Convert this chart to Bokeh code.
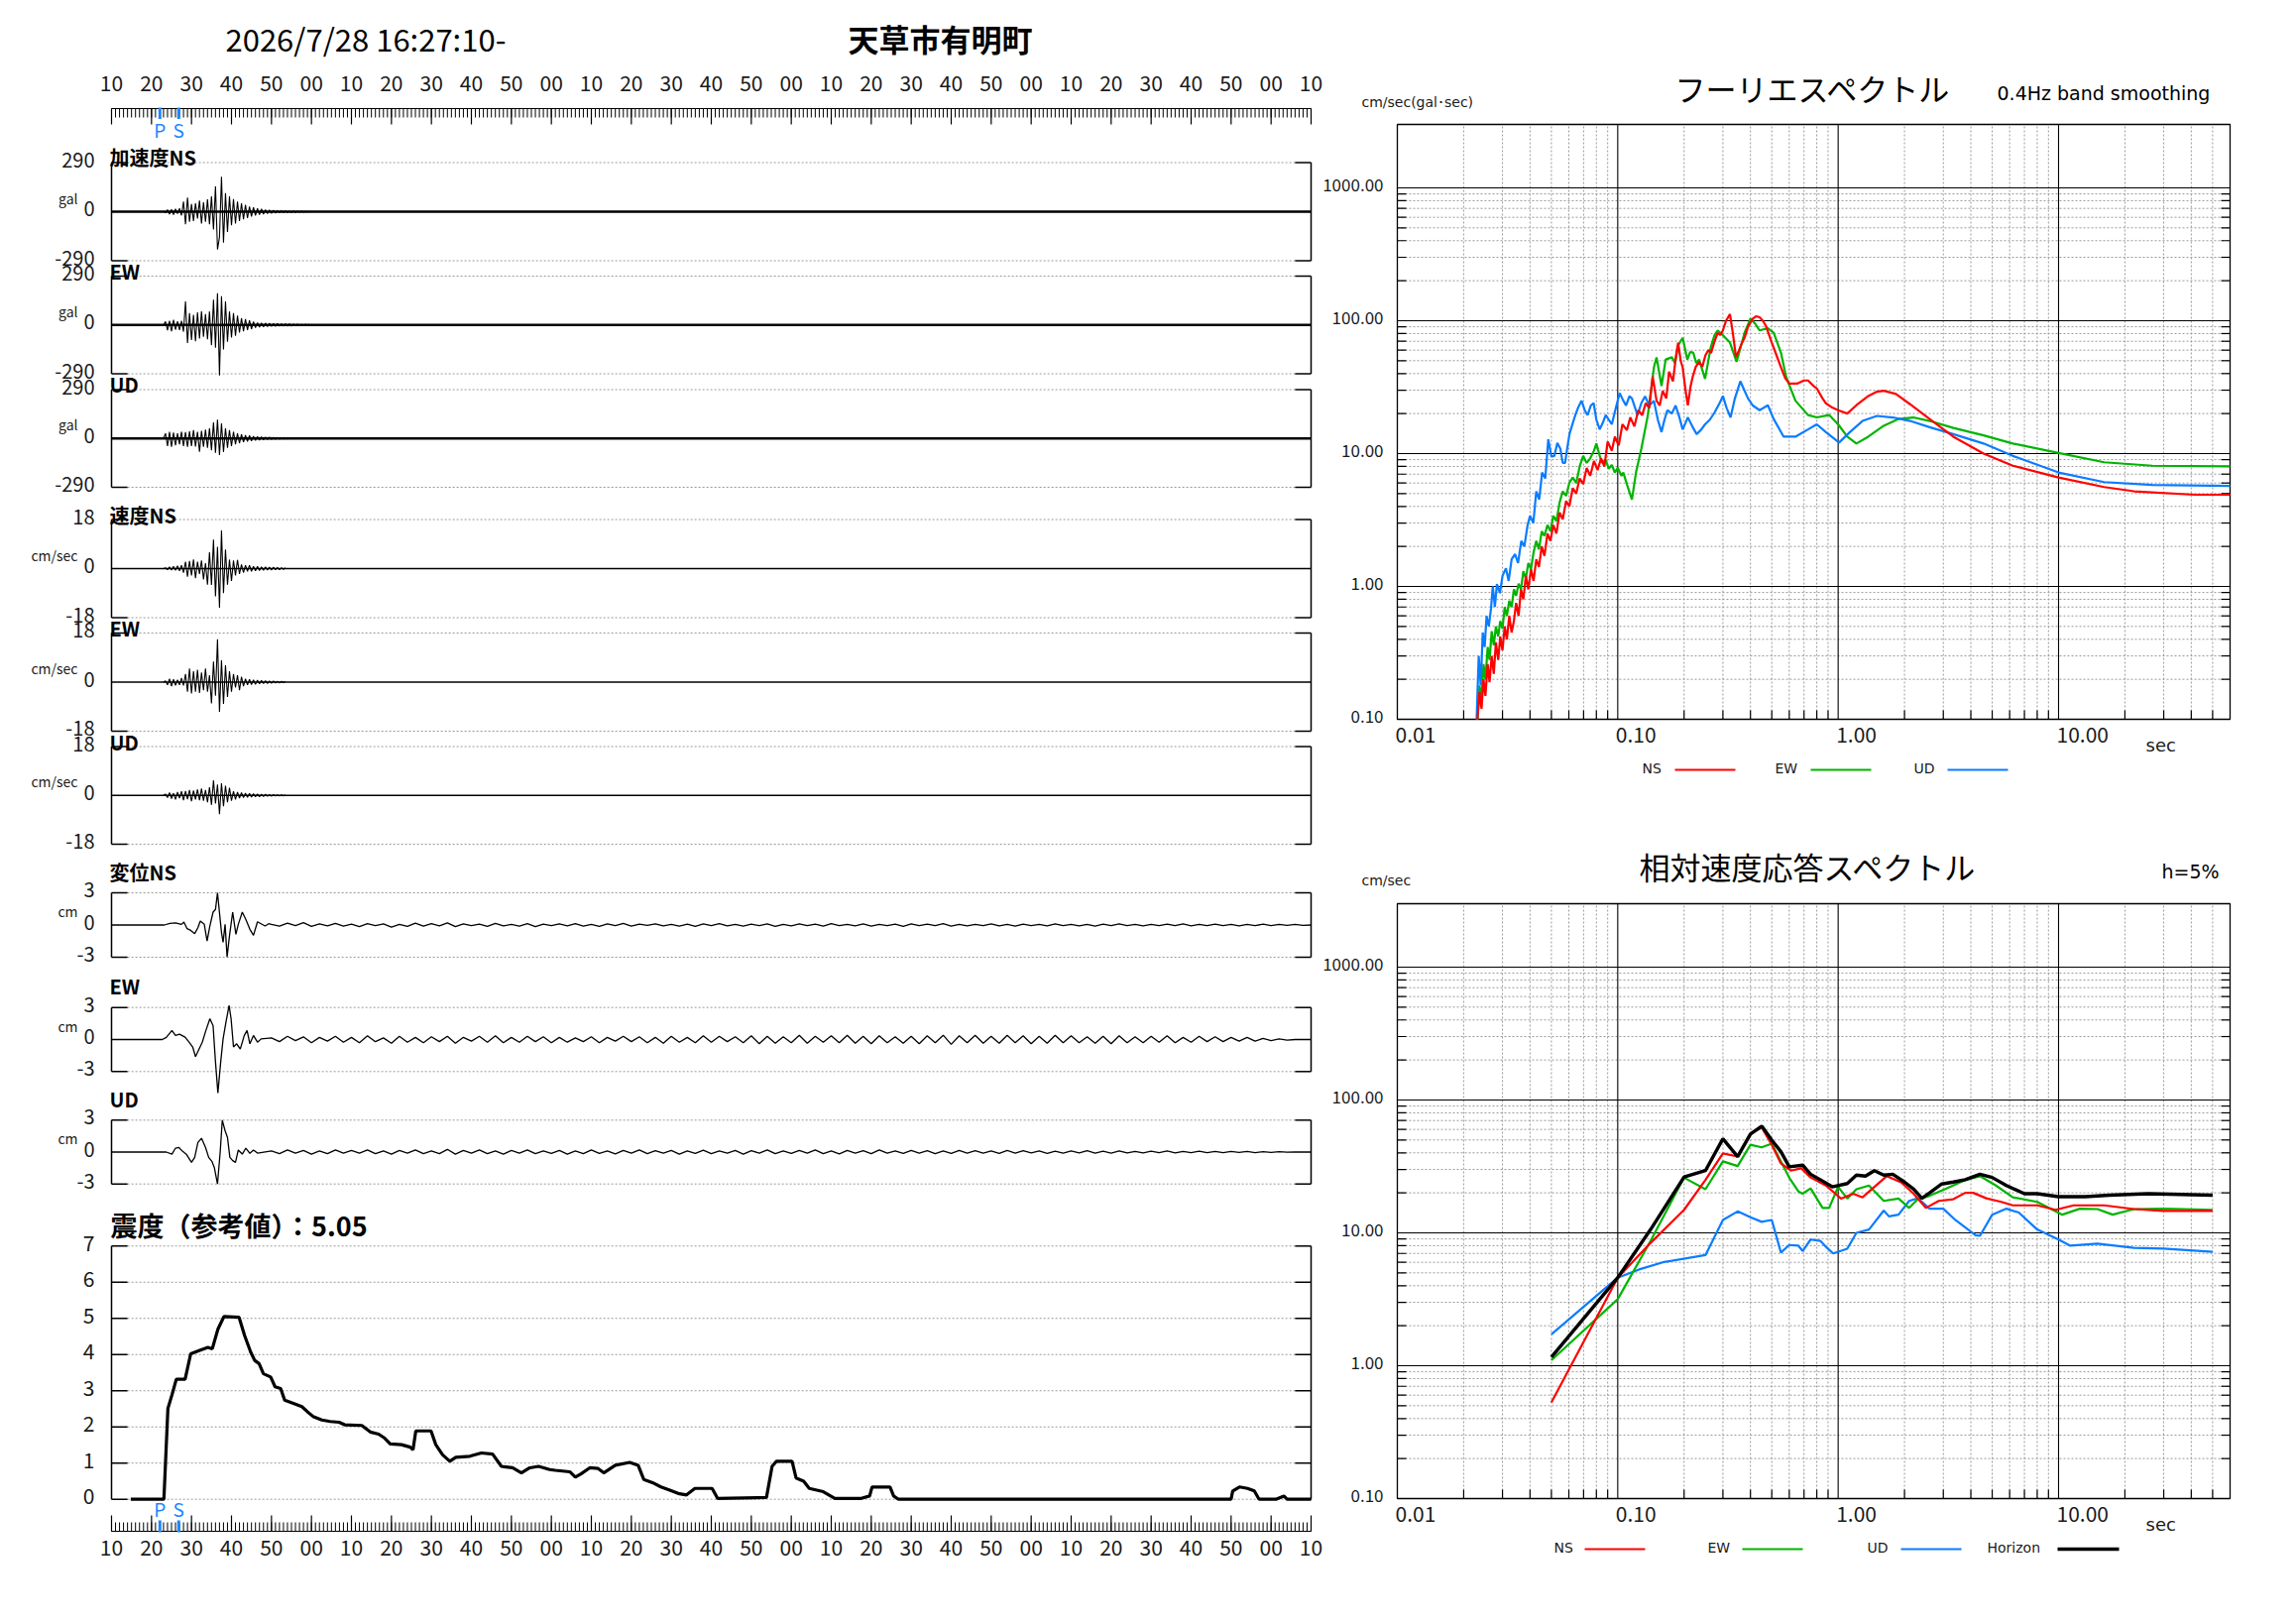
import numpy as np
from bokeh.plotting import figure
from bokeh.models import Range1d, LinearScale
from bokeh.core.properties import value
from bokeh.layouts import row, column
from bokeh.embed import file_html
from bokeh.resources import INLINE

FONT = "Noto Sans CJK JP"
LATIN = "DejaVu Sans"

# ------------------------------------------------------------------ data
TITLE_TIME = "2026/7/28 16:27:10-"
STATION = "天草市有明町"
INTENSITY_TITLE = "震度（参考値）：5.05"
TIME_TICK_LABELS = ["10", "20", "30", "40", "50", "00",
                    "10", "20", "30", "40", "50", "00",
                    "10", "20", "30", "40", "50", "00",
                    "10", "20", "30", "40", "50", "00",
                    "10", "20", "30", "40", "50", "00", "10"]
P_TIME = 12.1
S_TIME = 16.8

# acceleration (gal), samples every 0.5 s from t = 13 s
ACC_NS = [2, -6, 12, -15, 14, -18, 16, -12, 20, -22, 60, -75, 83, -60, 45, -55, 50, -40, 65, -70,
          55, -60, 73, -75, 90, -105, 150, -223, -150, 207, -183, 110, -120, 90, -80, 75, -70, 60,
          -55, 50, -45, 40, -38, 30, -28, 25, -22, 20, -18, 16, -15, 12, -12, 10, -10, 9, -8, 7,
          -7, 6, -6, 5, -5, 4, -5, 4, -4, 3, -3, 3, -3, 2, -2, 2]
ACC_EW = [0, 20, -31, 25, -37, 30, -28, 22, -30, 25, -40, 140, -107, 70, -90, 60, -97, 75, -80, 81,
          -70, 65, -85, 80, -120, 150, -136, 189, -300, 170, -146, 140, -100, 80, -75, 70, -65, 55,
          -45, 40, -38, 35, -30, 28, -25, 20, -16, 14, -13, 12, -12, 11, -10, 10, -9, 9, -8, 8,
          -7, 7, -7, 6, -6, 6, -6, 5, -5, 5, -5, 4, -5, 4, -4, 4]
ACC_UD = [0, 30, -45, 39, -49, 35, -40, 30, -35, 40, -45, 38, -50, 42, -45, 50, -48, 40, -79, 45,
          -50, 52, -55, 60, -70, 95, -85, 112, -99, 90, -80, 60, -55, 50, -45, 40, -35, 30, -28, 25,
          -22, 20, -18, 18, -15, 14, -12, 12, -10, 10, -8, 9, -7, 8, -6, 6, -5, 5, -4, 4, -3, 3,
          -3, 3, -2, 2, -2, 2, -2, 2, -1, 1, -1, 1]

# velocity (cm/sec), samples every 0.5 s from t = 13 s
VEL_NS = [0, 0.3, -0.4, 0.6, -0.5, 0.8, -0.6, 1.0, -0.8, 1.2, -1.5, 2.5, -3.0, 2.8, -2.5, 3.3,
          -3.5, 2.5, -2.0, 3.0, -4.0, 2.0, -5.9, 6.0, -6.0, 10.6, -10.2, 8.0, -14.4, 14.0, -9.0,
          7.0, -5.9, 3.3, -4.5, 3.0, -2.5, 3.2, -2.0, 1.5, -1.5, 1.2, -1.0, 1.2, -1.0, 0.8, -0.8,
          0.8, -0.7, 0.6, -0.6, 0.6, -0.5, 0.5, -0.5, 0.5, -0.4, 0.4, -0.4, 0.3, -0.3, 0.3]
VEL_EW = [0, 0.5, -1.0, 1.2, -1.5, 1.0, -1.2, 0.8, -1.0, 1.5, -1.2, 3.0, -3.5, 5.0, -4.2, 4.0,
          -3.5, 4.5, -4.0, 3.5, -3.0, 5.0, -3.5, 2.5, -7.8, 7.5, -5.0, 15.7, -10.9, 8.0, -8.0,
          6.2, -5.4, 4.0, -3.5, 3.0, -2.0, 2.5, -3.0, 2.0, -1.5, 1.2, -1.0, 1.0, -0.9, 0.8, -0.8,
          0.7, -0.6, 0.6, -0.5, 0.5, -0.5, 0.4, -0.4, 0.4, -0.3, 0.3, -0.3, 0.3, -0.2, 0.2]
VEL_UD = [0, 0.5, -0.8, 1.0, -1.2, 0.8, -1.5, 1.2, -1.0, 1.5, -1.8, 1.6, -1.4, 2.0, -2.2, 1.8,
          -1.5, 2.2, -1.8, 2.5, -2.0, 2.0, -2.5, 3.0, -3.5, 5.6, -3.0, 4.0, -6.9, 4.5, -4.0, 3.5,
          -2.5, 2.8, -2.0, 1.5, -1.5, 1.2, -1.0, 1.0, -0.8, 0.8, -0.7, 0.7, -0.6, 0.6, -0.5, 0.5,
          -0.5, 0.4, -0.4, 0.4, -0.3, 0.3, -0.3, 0.3, -0.2, 0.2, -0.2, 0.2, -0.2, 0.2]

# displacement (cm): main motion (time, value) and tail every 2 s from t = 40 s
DISP_NS_T = [13.2, 14.6, 16.0, 17.5, 18.1, 18.9, 19.8, 20.8, 21.6, 22.2, 23.2, 23.9, 24.6, 25.4,
             26.0, 26.5, 27.0, 27.5, 27.9, 28.4, 28.9, 29.5, 30.3, 31.1, 31.7, 32.7, 33.6, 34.6,
             35.5, 36.5, 37.4, 38.4, 39.3]
DISP_NS_V = [0.0, 0.15, 0.2, 0.06, 0.28, -0.34, -0.5, -0.8, -0.25, 0.37, 0.06, -1.49, -0.09, 1.2,
             1.45, 3.0, 1.15, -0.7, -1.6, 0.06, -2.97, -1.0, 1.2, -0.87, 0.06, 1.2, 0.5, -0.4,
             -0.96, 0.3, 0.12, -0.09, 0.12]
DISP_EW_T = [12.7, 13.7, 15.1, 16.0, 17.0, 18.4, 19.4, 20.3, 21.0, 21.7, 22.7, 23.6, 24.6, 25.4,
             26.0, 26.6, 27.3, 27.9, 28.6, 29.4, 29.9, 30.5, 31.3, 32.2, 33.2, 33.9, 34.6, 35.5,
             36.5, 37.4]
DISP_EW_V = [0.0, 0.2, 0.85, 0.38, 0.5, 0.22, -0.25, -0.7, -1.6, -1.04, -0.25, 0.85, 1.95, 1.3,
             -2.1, -5.0, -2.1, 0.06, 1.6, 3.2, 1.95, -0.7, -0.4, -0.9, 0.38, 0.85, -0.4, 0.38,
             -0.25, 0.06]
DISP_UD_T = [13.7, 15.1, 16.0, 16.8, 17.8, 18.7, 20.0, 20.8, 21.6, 22.5, 23.5, 24.3, 25.1, 25.7,
             26.5, 27.2, 27.7, 28.4, 29.0, 29.6, 30.3, 31.0, 31.7, 32.7, 33.6, 34.6, 35.5, 36.5]
DISP_UD_V = [0.0, -0.2, 0.37, 0.44, 0.06, -0.2, -0.97, -0.5, 0.9, 1.3, 0.44, -0.5, -0.87, -1.44,
             -3.0, 0.12, 3.0, 2.0, 1.37, -0.5, -0.8, -0.97, 0.19, -0.19, 0.37, -0.12, 0.19, -0.1]
DISP_NS_TAIL = [0.05, -0.1, 0.18, -0.05, 0.22, -0.12, 0.1, -0.08, 0.15, -0.1,
                0.08, -0.15, 0.12, -0.05, 0.1, -0.2, 0.05, -0.12, 0.18, -0.1,
                0.12, -0.08, 0.2, -0.15, 0.1, -0.05, 0.08, -0.12, 0.15, -0.08,
                0.05, -0.1, 0.12, -0.15, 0.08, -0.05, 0.1, -0.08, 0.12, -0.1,
                0.06, -0.12, 0.1, -0.06, 0.14, -0.1, 0.08, -0.04, 0.1, -0.08,
                0.05, -0.1, 0.08, -0.12, 0.1, -0.06, 0.12, -0.08, 0.05, -0.1,
                0.08, -0.06, 0.1, -0.12, 0.06, -0.08, 0.1, -0.05, 0.08, -0.1,
                0.12, -0.06, 0.05, -0.08, 0.1, -0.1, 0.06, -0.05, 0.08, -0.12,
                0.1, -0.06, 0.08, -0.05, 0.12, -0.1, 0.06, -0.08, 0.05, -0.06,
                0.1, -0.08, 0.06, -0.1, 0.08, -0.05, 0.06, -0.08, 0.1, -0.06,
                0.05, -0.08, 0.06, -0.1, 0.08, -0.05, 0.1, -0.06, 0.05, -0.08,
                0.06, -0.05, 0.08, -0.06, 0.1, -0.08, 0.05, -0.06, 0.08, -0.05,
                0.06, -0.08, 0.05, -0.06, 0.08, -0.05, 0.06, -0.04, 0.05, -0.03, 0.0]
DISP_EW_TAIL = [0.15, -0.2, 0.3, -0.1, 0.25, -0.3, 0.2, -0.15, 0.3, -0.25,
                0.2, -0.3, 0.35, -0.2, 0.15, -0.35, 0.3, -0.25, 0.2, -0.3,
                0.25, -0.2, 0.3, -0.35, 0.2, -0.15, 0.3, -0.25, 0.35, -0.3,
                0.2, -0.25, 0.3, -0.2, 0.25, -0.3, 0.2, -0.25, 0.15, -0.2,
                0.25, -0.3, 0.2, -0.15, 0.3, -0.2, 0.25, -0.3, 0.2, -0.35,
                0.3, -0.25, 0.2, -0.3, 0.35, -0.25, 0.3, -0.2, 0.25, -0.3,
                0.35, -0.4, 0.3, -0.35, 0.25, -0.3, 0.4, -0.35, 0.3, -0.25,
                0.35, -0.3, 0.4, -0.35, 0.3, -0.4, 0.35, -0.3, 0.25, -0.35,
                0.3, -0.4, 0.35, -0.3, 0.4, -0.45, 0.35, -0.3, 0.4, -0.35,
                0.3, -0.35, 0.4, -0.3, 0.35, -0.4, 0.3, -0.35, 0.4, -0.3,
                0.35, -0.3, 0.25, -0.35, 0.3, -0.4, 0.35, -0.3, 0.25, -0.3,
                0.3, -0.25, 0.35, -0.3, 0.2, -0.25, 0.3, -0.2, 0.25, -0.2,
                0.2, -0.15, 0.2, -0.15, 0.1, -0.1, 0.05, -0.05, 0.0, 0.0, 0.0]
DISP_UD_TAIL = [0.1, -0.15, 0.2, -0.1, 0.15, -0.2, 0.1, -0.15, 0.2, -0.1,
                0.15, -0.1, 0.2, -0.15, 0.1, -0.2, 0.15, -0.1, 0.2, -0.15,
                0.1, -0.15, 0.25, -0.2, 0.15, -0.1, 0.2, -0.15, 0.1, -0.2,
                0.15, -0.1, 0.2, -0.15, 0.1, -0.12, 0.15, -0.2, 0.1, -0.15,
                0.2, -0.12, 0.1, -0.18, 0.15, -0.1, 0.2, -0.15, 0.12, -0.1,
                0.15, -0.2, 0.1, -0.12, 0.18, -0.15, 0.1, -0.1, 0.15, -0.2,
                0.12, -0.1, 0.2, -0.15, 0.1, -0.12, 0.15, -0.1, 0.2, -0.15,
                0.1, -0.18, 0.15, -0.1, 0.12, -0.15, 0.2, -0.1, 0.1, -0.12,
                0.15, -0.1, 0.12, -0.15, 0.1, -0.12, 0.15, -0.1, 0.12, -0.1,
                0.1, -0.12, 0.15, -0.1, 0.12, -0.08, 0.1, -0.12, 0.08, -0.1,
                0.1, -0.08, 0.12, -0.1, 0.08, -0.1, 0.1, -0.08, 0.06, -0.08,
                0.08, -0.06, 0.1, -0.08, 0.06, -0.05, 0.08, -0.06, 0.05, -0.06,
                0.05, -0.04, 0.06, -0.05, 0.04, -0.03, 0.03, -0.02, 0.02, 0.0, 0.0]

# seismic intensity (reference value)
INT_T = [4.8, 13.1, 14.1, 15.1, 16.2, 18.4, 19.8, 21.9, 24.1, 25.2, 26.6, 28.1, 31.9, 33.3, 34.8,
         35.8, 36.9, 38.0, 39.8, 40.9, 42.3, 43.3, 45.5, 47.6, 49.0, 50.4, 52.6, 54.7, 56.9, 58.3,
         62.6, 64.7, 66.8, 68.3, 69.7, 72.5, 74.7, 75.4, 76.1, 79.9, 81.1, 82.8, 84.6, 86.1, 89.6,
         92.5, 95.3, 97.5, 100.3, 102.5, 104.6, 106.8, 109.6, 111.0, 114.6, 116.0, 117.4, 119.6,
         121.7, 123.1, 126.0, 129.6, 131.7, 133.1, 135.3, 137.4, 139.6, 141.7, 143.8, 145.9, 150.2,
         151.6, 163.8, 165.2, 166.3, 170.2, 171.2, 173.1, 174.5, 178.0, 180.9, 187.3, 189.6, 190.2,
         194.7, 195.6, 196.8, 280.0, 280.4, 282.1, 284.1, 285.8, 287.0, 291.2, 293.2, 294.0, 300.0]
INT_V = [0.0, 0.0, 2.51, 2.88, 3.32, 3.32, 4.02, 4.11, 4.2, 4.16, 4.7, 5.05, 5.03, 4.52, 4.07,
         3.84, 3.75, 3.47, 3.38, 3.11, 3.06, 2.74, 2.65, 2.56, 2.42, 2.29, 2.19, 2.15, 2.13, 2.06,
         2.04, 1.86, 1.80, 1.69, 1.53, 1.51, 1.44, 1.37, 1.89, 1.89, 1.51, 1.23, 1.05, 1.16, 1.19,
         1.28, 1.25, 0.91, 0.87, 0.73, 0.87, 0.91, 0.82, 0.80, 0.76, 0.61, 0.70, 0.87,
         0.85, 0.73, 0.94, 1.02, 0.94, 0.55, 0.46, 0.34, 0.25, 0.16, 0.12, 0.30, 0.30,
         0.02, 0.05, 0.91, 1.05, 1.05, 0.59, 0.50, 0.30, 0.21, 0.02, 0.02, 0.09, 0.34,
         0.34, 0.09, 0.0, 0.0, 0.23, 0.34, 0.30, 0.23, 0.0, 0.0, 0.09, 0.0, 0.0]

# Fourier spectrum (period sec, cm/sec)
FS_NS_T = [0.0231, 0.0236, 0.0241, 0.0246, 0.0251, 0.0257, 0.0262, 0.0268, 0.0274, 0.0280, 0.0287,
           0.0293, 0.0300, 0.0307, 0.0314, 0.0322, 0.0330, 0.0338, 0.0346, 0.0355, 0.0364, 0.0373,
           0.0383, 0.0393, 0.0404, 0.0415, 0.0427, 0.0439, 0.0452, 0.0465, 0.048, 0.0495, 0.051,
           0.0527, 0.0545, 0.0563, 0.0583, 0.0603, 0.0625, 0.0648, 0.0672, 0.0697, 0.0723, 0.075,
           0.078, 0.081, 0.084, 0.087, 0.090, 0.094, 0.097, 0.101, 0.105, 0.110, 0.114, 0.119,
           0.124, 0.129, 0.134, 0.139, 0.144, 0.150, 0.155, 0.160, 0.166, 0.171, 0.178, 0.184,
           0.188, 0.193, 0.197, 0.203, 0.208, 0.214, 0.219, 0.226, 0.234, 0.242, 0.250, 0.258,
           0.265, 0.275, 0.284, 0.292, 0.300, 0.31, 0.323, 0.333, 0.344, 0.355, 0.366, 0.376,
           0.39, 0.41, 0.425, 0.44, 0.455, 0.47, 0.50, 0.525, 0.55, 0.575, 0.60, 0.65, 0.70, 0.73,
           0.77, 0.80, 0.85, 0.88, 0.94, 1.0, 1.10, 1.21, 1.37, 1.50, 1.61, 1.83, 2.12, 2.6, 3.33,
           4.57, 6.2, 10, 16.1, 22, 41.6, 60]
FS_NS_A = [0.1, 0.16, 0.12, 0.2, 0.15, 0.26, 0.19, 0.3, 0.22, 0.38, 0.28, 0.42, 0.33, 0.5, 0.4,
           0.6, 0.45, 0.55, 0.75, 0.6, 0.95, 0.8, 1.2, 0.95, 1.35, 1.1, 1.6, 1.4, 2.0, 1.7, 2.5,
           2.2, 2.9, 2.5, 3.6, 3.2, 4.4, 4.0, 5.5, 5.0, 6.5, 5.9, 7.8, 6.8, 8.8, 7.5, 9.2, 8.0,
           12.3, 10.5, 13.4, 11.5, 16.6, 15, 18.7, 16, 21.2, 19.4, 24, 22, 38, 25, 23, 29.7, 26,
           41.3, 35, 55, 68.4, 50, 44.6, 30, 23.1, 32, 38, 45, 48.8, 45, 55, 60.2, 57, 70, 80.9,
           78, 84.5, 100, 112, 80, 53, 60, 68, 74.2, 90, 103.6, 108, 106, 100, 91.6, 68.4, 55,
           44.7, 37, 33.6, 33.6, 35.5, 35.5, 32.5, 30.9, 26, 23.9, 22.2, 21.2, 20.0, 23.1, 27.1,
           29.2, 29.7, 28.1, 23.5, 18.2, 13.4, 10.0, 8.1, 6.6, 5.6, 5.2, 4.9, 4.9]
FS_EW_T = [0.0231, 0.0236, 0.0241, 0.0246, 0.0251, 0.0257, 0.0262, 0.0268, 0.0274, 0.0280, 0.0287,
           0.0293, 0.0300, 0.0307, 0.0314, 0.0322, 0.0330, 0.0338, 0.0346, 0.0355, 0.0364, 0.0373,
           0.0383, 0.0393, 0.0404, 0.0415, 0.0427, 0.0439, 0.0452, 0.0465, 0.048, 0.0495, 0.051,
           0.0527, 0.0545, 0.0563, 0.0583, 0.0603, 0.0625, 0.0648, 0.0672, 0.0697, 0.0723, 0.075,
           0.078, 0.080, 0.083, 0.085, 0.088, 0.091, 0.094, 0.097, 0.100, 0.104, 0.106, 0.111,
           0.116, 0.121, 0.128, 0.137, 0.146, 0.150, 0.158, 0.165, 0.176, 0.182, 0.188, 0.197,
           0.207, 0.213, 0.220, 0.227, 0.234, 0.249, 0.264, 0.275, 0.284, 0.300, 0.323, 0.346,
           0.36, 0.376, 0.40, 0.42, 0.44, 0.48, 0.51, 0.55, 0.58, 0.64, 0.73, 0.80, 0.91, 1.0,
           1.1, 1.21, 1.37, 1.61, 1.88, 2.19, 2.6, 3.33, 4.57, 6.2, 10, 16.1, 26.6, 60]
FS_EW_A = [0.1, 0.18, 0.14, 0.26, 0.2, 0.35, 0.28, 0.46, 0.36, 0.5, 0.42, 0.55, 0.48, 0.7, 0.6,
           0.78, 0.7, 0.95, 0.85, 1.05, 0.95, 1.3, 1.15, 1.5, 1.35, 1.8, 2.2, 1.9, 2.6, 2.4, 2.9,
           2.6, 3.4, 3.1, 4.3, 5.2, 4.8, 6.0, 6.6, 6.0, 8.0, 9.6, 8.5, 9.2, 10.5, 11.9, 9.5, 8.5,
           9.0, 7.7, 8.2, 7.2, 7.8, 6.8, 7.2, 5.6, 4.5, 7.2, 10.9, 19.5, 44.7, 53, 32.3, 51, 53,
           48, 65.3, 74.2, 51, 58, 57.6, 48, 51, 36.5, 62.7, 78, 84.5, 77.6, 68.4, 49, 62, 81,
           103.6, 95, 84.5, 87.6, 81, 57.6, 38, 25, 19.5, 18.7, 19.5, 16.6, 13.4, 11.9, 13.4,
           16.2, 18.2, 18.7, 17.6, 15.6, 13.7, 11.9, 10.1, 8.6, 8.1, 8.0]
FS_UD_T = [0.0229, 0.0234, 0.0239, 0.0244, 0.0249, 0.0254, 0.026, 0.0266, 0.0271, 0.0277, 0.0283,
           0.0292, 0.030, 0.0311, 0.032, 0.033, 0.0342, 0.0353, 0.0365, 0.0377, 0.039, 0.040,
           0.0414, 0.0427, 0.044, 0.0454, 0.0469, 0.0484, 0.050, 0.0516, 0.0532, 0.0549, 0.0563,
           0.0577, 0.059, 0.0604, 0.0622, 0.0642, 0.066, 0.0685, 0.071, 0.073, 0.0755, 0.0777,
           0.080, 0.0828, 0.0855, 0.0882, 0.091, 0.094, 0.098, 0.102, 0.106, 0.109, 0.113, 0.116,
           0.120, 0.123, 0.128, 0.133, 0.139, 0.146, 0.152, 0.158, 0.163, 0.168, 0.176, 0.183,
           0.19, 0.197, 0.203, 0.208, 0.218, 0.228, 0.238, 0.249, 0.262, 0.275, 0.290, 0.300,
           0.312, 0.325, 0.34, 0.36, 0.375, 0.39, 0.41, 0.44, 0.48, 0.51, 0.566, 0.64, 0.73, 0.80,
           0.88, 1.01, 1.13, 1.29, 1.50, 1.77, 2.12, 2.6, 3.33, 4.57, 6.2, 10, 16.1, 26.6, 60]
FS_UD_A = [0.1, 0.3, 0.18, 0.45, 0.35, 0.6, 0.5, 0.68, 1.0, 0.7, 1.04, 0.89, 1.2, 1.37, 1.1, 1.6,
           1.75, 1.5, 2.2, 2.0, 2.9, 3.4, 3.0, 5.2, 4.5, 7.2, 6.5, 12.8, 9.5, 9.6, 12, 10.9, 8.5,
           8.5, 11, 14, 16.5, 19.5, 22, 25, 21, 19.5, 23, 24, 18, 15.2, 17, 19.5, 18, 16.6, 22,
           28.5, 25, 23, 27, 26, 22, 19.5, 24, 27, 23, 24.9, 18, 14.5, 18, 21.2, 20, 23, 19,
           15.2, 17, 18.7, 16, 14, 15, 16.6, 18, 20.4, 24, 27.1, 22, 18.7, 26, 35, 30, 26, 23,
           21.2, 23.1, 18.2, 13.4, 13.4, 15.2, 16.6, 14.5, 12.1, 14.5, 17.6, 19.2, 18.7, 17.6,
           15.8, 14.0, 11.9, 9.6, 7.2, 6.1, 5.8, 5.7]

# relative velocity response spectrum, h = 5 % (period sec, cm/sec)
RS_NS_T = [0.05, 0.1, 0.141, 0.20, 0.25, 0.30, 0.35, 0.40, 0.45, 0.50, 0.55, 0.61, 0.68, 0.75,
           0.88, 1.03, 1.17, 1.29, 1.46, 1.66, 1.93, 2.2, 2.5, 2.86, 3.33, 3.77, 4.1, 4.7, 5.5,
           6.2, 8.0, 9.7, 11.7, 16.1, 22, 30, 50]
RS_NS_V = [0.53, 4.6, 8.4, 14.9, 25, 39.6, 37.5, 56, 62, 46, 33.3, 29.4, 30.6, 26.1, 22.7, 18.1,
           19.7, 18.5, 22.2, 26.7, 24, 19.7, 15.4, 17.4, 17.9, 20, 20, 18.2, 17.1, 16.1, 16.1,
           14.9, 16.1, 16.1, 15.1, 14.6, 14.6]
RS_EW_T = [0.05, 0.1, 0.141, 0.20, 0.25, 0.30, 0.35, 0.40, 0.45, 0.50, 0.55, 0.60, 0.66, 0.69,
           0.75, 0.85, 0.91, 1.0, 1.1, 1.21, 1.38, 1.61, 1.88, 2.1, 2.3, 2.6, 3.1, 3.77, 4.4, 5.2,
           6.2, 8.0, 10.4, 12.5, 15.0, 17.6, 22, 30, 50]
RS_EW_V = [1.1, 3.17, 8.7, 26, 21.3, 34.5, 31.8, 46, 44, 46.9, 34.5, 26, 20.5, 19.7, 21.6, 15.4,
           15.4, 22.2, 18.1, 21.3, 22.7, 17.4, 18.1, 15.4, 17.9, 19, 21.6, 25, 26.7, 22.7, 18.5,
           17.1, 13.7, 15.2, 15.1, 13.7, 15.1, 15.2, 14.9]
RS_UD_T = [0.05, 0.1, 0.125, 0.16, 0.25, 0.30, 0.35, 0.40, 0.45, 0.50, 0.55, 0.60, 0.66, 0.69,
           0.75, 0.83, 0.89, 0.95, 1.1, 1.21, 1.38, 1.61, 1.7, 1.88, 2.1, 2.3, 2.6, 3.0, 3.4, 4.2,
           4.4, 5.0, 5.8, 6.6, 8.0, 10, 11.3, 15, 22, 30, 50]
RS_UD_V = [1.72, 4.6, 5.3, 6.0, 6.8, 12.5, 14.5, 13.1, 12.1, 12.5, 7.1, 8.1, 8.0, 7.3, 8.9, 8.7,
           7.7, 7.0, 7.6, 10, 10.6, 14.7, 13.3, 13.7, 17.4, 18.2, 15.2, 15.2, 12.5, 9.6, 9.5,
           13.7, 15.2, 14.2, 10.6, 8.9, 8.0, 8.3, 7.7, 7.6, 7.2]
RS_H_T = [0.05, 0.1, 0.141, 0.20, 0.25, 0.30, 0.35, 0.40, 0.45, 0.50, 0.55, 0.60, 0.69, 0.75,
          0.83, 0.94, 1.1, 1.21, 1.33, 1.46, 1.61, 1.77, 2.0, 2.2, 2.4, 2.6, 2.95, 3.33, 3.77,
          4.4, 5.0, 5.8, 7.0, 8.0, 10, 13.2, 17, 25.5, 50]
RS_H_V = [1.16, 4.6, 10.6, 26.3, 29.4, 51, 37.5, 55.4, 63.6, 49.8, 40.8, 31.4, 32.3, 27.6, 25.1,
          22.2, 23.5, 27.2, 26.7, 29.4, 27.2, 27.6, 24.1, 21.3, 18.2, 20, 23.3, 24.1, 25.1, 27.6,
          26.1, 22.7, 19.7, 19.7, 18.7, 18.7, 19.2, 19.7, 19.2]

SPEC_X_TICKS = [0.01, 0.1, 1, 10]
SPEC_X_LABELS = ["0.01", "0.10", "1.00", "10.00"]
SPEC_Y_TICKS = [0.1, 1, 10, 100, 1000]
SPEC_Y_LABELS = ["0.10", "1.00", "10.00", "100.00", "1000.00"]
SPEC_X_MAX = 60
SPEC_Y_MAX = 3000

RED, GREEN, BLUE, BLACK = "#ff0000", "#00b400", "#0a7cff", "#000000"
PS_BLUE = "#1e88ff"
GREY = "#9a9a9a"
TXT = "#1a1a1a"

# ------------------------------------------------------------------ layout (page pixels)
FL, FR = 112, 1322          # time axis 0..300 s
LW, H = 1334, 1634          # left figure size; the page origin is the figure origin
RX0 = LW
RW, RH = 2314 - RX0, 817
BL, BR = 1409, 2249         # spectrum box left / right
DY = -3                     # optical correction for vertically centred text


def lin_range(a_val, a_px, b_val, b_px, start_px, end_px):
    k = (b_val - a_val) / (b_px - a_px)
    return Range1d(start=a_val + (start_px - a_px) * k, end=a_val + (end_px - a_px) * k)


def log_range(a_val, a_px, b_val, b_px, start_px, end_px):
    la, lb = np.log10(a_val), np.log10(b_val)
    k = (lb - la) / (b_px - a_px)
    return Range1d(start=10 ** (la + (start_px - a_px) * k), end=10 ** (la + (end_px - a_px) * k))


def txt(fig, xs, ys, texts, size, align="left", color=TXT, xr="default", font=FONT,
        style="normal", x_offset=0):
    """Text whose vertical position is given in page pixels (the 'px' y range)."""
    fig.text(x=xs, y=[y + DY for y in ys], text=texts, x_range_name=xr, y_range_name="px",
             text_font=value(font), text_font_size=value(f"{size}px"),
             text_align=value(align), text_baseline=value("middle"),
             text_font_style=value(style), text_color=color, x_offset=x_offset)


def bare_figure(width, height, x_range, y_range, **kw):
    f = figure(width=width, height=height, x_range=x_range, y_range=y_range,
               x_axis_location=None, y_axis_location=None, toolbar_location=None,
               output_backend="svg", min_border_left=0, min_border_right=0,
               min_border_top=0, min_border_bottom=0, **kw)
    f.outline_line_color = None
    f.grid.visible = False
    f.background_fill_color = "white"
    f.border_fill_color = "white"
    return f


# ------------------------------------------------------------------ left: waveforms
left = bare_figure(LW, H, lin_range(0, FL, 300, FR, 0, LW), Range1d(H, 0))
left.extra_x_ranges = {"px": Range1d(0, LW)}
left.extra_y_ranges = {"px": Range1d(H, 0)}

time_ticks = list(range(0, 10 * len(TIME_TICK_LABELS), 10))
sec_ticks = list(range(0, 301))
for base, sign, lab_y in ((109, 1, 86), (1544, -1, 1563)):
    left.segment(x0=[0], y0=[base], x1=[300], y1=[base], line_color="black", line_width=1.2)
    left.segment(x0=sec_ticks, y0=[base] * len(sec_ticks), x1=sec_ticks,
                 y1=[base + sign * 9] * len(sec_ticks), line_color="black", line_width=1)
    left.segment(x0=time_ticks, y0=[base] * len(time_ticks), x1=time_ticks,
                 y1=[base + sign * 16] * len(time_ticks), line_color="black", line_width=1.2)
    txt(left, time_ticks, [lab_y] * len(time_ticks), TIME_TICK_LABELS, 21, align="center")

for t, s in ((P_TIME, "P"), (S_TIME, "S")):
    left.segment(x0=[t, t], y0=[108, 1533], x1=[t, t], y1=[119.5, 1545], line_color=PS_BLUE,
                 line_width=3)
    txt(left, [t, t], [133, 1524], [s, s], 19, align="center", color=PS_BLUE)

txt(left, [227], [41], [TITLE_TIME], 31, xr="px", color="black")
txt(left, [855], [41], [STATION], 31, xr="px", style="bold", color="black")

BR_T = 4.0  # bracket length in seconds
PANELS = [
    ("accNS", "加速度NS", "gal", 290, 163.5, 262.5, 161, ACC_NS, None),
    ("accEW", "EW", "gal", 290, 278, 376.5, 276, ACC_EW, None),
    ("accUD", "UD", "gal", 290, 392.5, 491, 390, ACC_UD, None),
    ("velNS", "速度NS", "cm/sec", 18, 523.5, 622.5, 522, VEL_NS, None),
    ("velEW", "EW", "cm/sec", 18, 638, 737, 636, VEL_EW, None),
    ("velUD", "UD", "cm/sec", 18, 752.5, 851, 751, VEL_UD, None),
    ("dispNS", "変位NS", "cm", 3, 900, 965, 882, (DISP_NS_T, DISP_NS_V), DISP_NS_TAIL),
    ("dispEW", "EW", "cm", 3, 1015.7, 1080.3, 997, (DISP_EW_T, DISP_EW_V), DISP_EW_TAIL),
    ("dispUD", "UD", "cm", 3, 1129.3, 1193.7, 1111, (DISP_UD_T, DISP_UD_V), DISP_UD_TAIL),
]
for key, name, unit, lim, top, bot, ty, series, tail in PANELS:
    left.extra_y_ranges[key] = lin_range(lim, top, -lim, bot, H, 0)
    left.segment(x0=[BR_T, BR_T], y0=[lim, -lim], x1=[300 - BR_T, 300 - BR_T], y1=[lim, -lim],
                 y_range_name=key, line_color=GREY, line_dash="2 2", line_width=1)
    left.segment(x0=[0, 0, 0, 300, 300 - BR_T, 300 - BR_T],
                 y0=[-lim, lim, -lim, -lim, lim, -lim],
                 x1=[0, BR_T, BR_T, 300, 300, 300],
                 y1=[lim, lim, -lim, lim, lim, -lim],
                 y_range_name=key, line_color="black", line_width=1.5)
    if tail is None:
        zw = 2.5 if key.startswith("acc") else 1.3
        left.line([0, 300], [0, 0], y_range_name=key, line_color="black", line_width=zw)
        tt = 13 + 0.5 * np.arange(len(series))
        left.line(tt, series, y_range_name=key, line_color="black", line_width=1.1)
    else:
        st, sv = series
        tt = list(40 + 2 * np.arange(len(tail)))
        xs = [0] + list(st) + tt + [300]
        ys = [0] + list(sv) + list(tail) + [0]
        left.line(xs, ys, y_range_name=key, line_color="black", line_width=1.3)
    zpx = (top + bot) / 2
    txt(left, [110], [ty], [name], 20, xr="px", color="black", style="bold")
    txt(left, [95, 95, 95], [top, zpx, bot], [str(lim), "0", f"-{lim}"], 20, align="right",
        xr="px")
    txt(left, [78], [zpx - 11], [unit], 14, align="right", xr="px")

# intensity panel
INT_TOP, INT_BOT, INT_MAX = 1256.3, 1511.7, 7
left.extra_y_ranges["int"] = lin_range(INT_MAX, INT_TOP, 0, INT_BOT, H, 0)
levels = list(range(0, INT_MAX + 1))
nl = len(levels)
left.segment(x0=[BR_T] * nl, y0=levels, x1=[300 - BR_T] * nl, y1=levels, y_range_name="int",
             line_color=GREY, line_dash="2 2", line_width=1)
left.segment(x0=[0] * nl + [300 - BR_T] * nl, y0=levels * 2, x1=[BR_T] * nl + [300] * nl,
             y1=levels * 2, y_range_name="int", line_color="black", line_width=1.5)
left.segment(x0=[0, 300], y0=[0, 0], x1=[0, 300], y1=[INT_MAX, INT_MAX], y_range_name="int",
             line_color="black", line_width=1.5)
left.line(INT_T, INT_V, y_range_name="int", line_color="black", line_width=3.2)
lvl_px = [INT_BOT - v * (INT_BOT - INT_TOP) / INT_MAX for v in levels]
txt(left, [95] * nl, lvl_px, [str(v) for v in levels], 21, align="right", xr="px")
txt(left, [111], [1238], [INTENSITY_TITLE], 27, xr="px", color="black", style="bold")


# ------------------------------------------------------------------ right: spectra
def spectrum_fig(top, bot, page_top):
    xr = log_range(SPEC_X_TICKS[0], BL, SPEC_X_MAX, BR, RX0, RX0 + RW)
    yr = log_range(SPEC_Y_TICKS[0], bot, SPEC_Y_MAX, top, page_top + RH, page_top)
    f = bare_figure(RW, RH, xr, yr, x_axis_type="log", y_axis_type="log")
    f.extra_x_ranges = {"px": Range1d(RX0, RX0 + RW)}
    f.extra_y_ranges = {"px": Range1d(page_top + RH, page_top)}
    f.extra_x_scales = {"px": LinearScale()}
    f.extra_y_scales = {"px": LinearScale()}
    x0, y0 = SPEC_X_TICKS[0], SPEC_Y_TICKS[0]
    xmin = [m * d for d in SPEC_X_TICKS[:-1] for m in range(2, 10)] + \
           [m * SPEC_X_TICKS[-1] for m in range(2, 6)]
    ymin = [m * d for d in SPEC_Y_TICKS[:-1] for m in range(2, 10)]
    nx, ny = len(xmin), len(ymin)
    f.segment(x0=xmin, y0=[y0] * nx, x1=xmin, y1=[SPEC_Y_MAX] * nx, line_color=GREY,
              line_dash="2 2", line_width=1)
    f.segment(x0=[x0] * ny, y0=ymin, x1=[SPEC_X_MAX] * ny, y1=ymin, line_color=GREY,
              line_dash="2 2", line_width=1)
    xm, ym = SPEC_X_TICKS[1:], SPEC_Y_TICKS[1:]
    f.segment(x0=xm, y0=[y0] * len(xm), x1=xm, y1=[SPEC_Y_MAX] * len(xm), line_color="black",
              line_width=1.1)
    f.segment(x0=[x0] * len(ym), y0=ym, x1=[SPEC_X_MAX] * len(ym), y1=ym, line_color="black",
              line_width=1.1)
    f.segment(x0=[BL] * ny, y0=ymin, x1=[BL + 9] * ny, y1=ymin, x_range_name="px",
              line_color="black", line_width=1.2)
    f.segment(x0=[BR - 9] * ny, y0=ymin, x1=[BR] * ny, y1=ymin, x_range_name="px",
              line_color="black", line_width=1.2)
    f.segment(x0=xmin, y0=[bot] * nx, x1=xmin, y1=[bot - 9] * nx, y_range_name="px",
              line_color="black", line_width=1.2)
    f.quad(left=[x0], right=[SPEC_X_MAX], bottom=[y0], top=[SPEC_Y_MAX], fill_color=None,
           line_color="black", line_width=1.3)
    span = np.log10(SPEC_Y_MAX) - np.log10(y0)
    ytick_px = [bot - (np.log10(v) - np.log10(y0)) * (bot - top) / span for v in SPEC_Y_TICKS]
    txt(f, [BL - 14] * len(SPEC_Y_TICKS), ytick_px, SPEC_Y_LABELS, 17, align="right", xr="px")
    txt(f, SPEC_X_TICKS, [bot + 18] * len(SPEC_X_TICKS), SPEC_X_LABELS, 21, x_offset=-2)
    txt(f, [2164], [bot + 29], ["sec"], 18, xr="px", font=LATIN)
    return f


def legend_entry(f, text, tx, x0, x1, y, color, width):
    txt(f, [tx], [y + 1], [text], 14, xr="px", font=LATIN)
    f.segment(x0=[x0], y0=[y], x1=[x1], y1=[y], x_range_name="px", y_range_name="px",
              line_color=color, line_width=width)


four = spectrum_fig(125, 725, 0)
four.line(FS_EW_T, FS_EW_A, line_color=GREEN, line_width=2.2)
four.line(FS_UD_T, FS_UD_A, line_color=BLUE, line_width=2.2)
four.line(FS_NS_T, FS_NS_A, line_color=RED, line_width=2.2)
txt(four, [1689], [91], ["フーリエスペクトル"], 31, xr="px", color="black")
txt(four, [2014], [96], ["0.4Hz band smoothing"], 19, xr="px", color="black", font=LATIN)
txt(four, [1373], [105], ["cm/sec(gal･sec)"], 14, xr="px", font=LATIN)
legend_entry(four, "NS", 1656, 1689, 1750, 776, RED, 2.2)
legend_entry(four, "EW", 1790, 1826, 1887, 776, GREEN, 2.2)
legend_entry(four, "UD", 1930, 1964, 2025, 776, BLUE, 2.2)

resp = spectrum_fig(911, 1511, RH)
resp.line(RS_UD_T, RS_UD_V, line_color=BLUE, line_width=2.2)
resp.line(RS_EW_T, RS_EW_V, line_color=GREEN, line_width=2.2)
resp.line(RS_NS_T, RS_NS_V, line_color=RED, line_width=2.2)
resp.line(RS_H_T, RS_H_V, line_color=BLACK, line_width=3.4)
txt(resp, [1653], [876], ["相対速度応答スペクトル"], 31, xr="px", color="black")
txt(resp, [2180], [881], ["h=5%"], 19, xr="px", color="black", font=LATIN)
txt(resp, [1373], [890], ["cm/sec"], 14, xr="px", font=LATIN)
legend_entry(resp, "NS", 1567, 1598, 1659, 1562, RED, 2.2)
legend_entry(resp, "EW", 1722, 1757, 1818, 1562, GREEN, 2.2)
legend_entry(resp, "UD", 1883, 1917, 1978, 1562, BLUE, 2.2)
legend_entry(resp, "Horizon", 2004, 2075, 2137, 1562, BLACK, 3.4)

page = row(left, column(four, resp))
open("out.html", "w").write(file_html(page, INLINE))
